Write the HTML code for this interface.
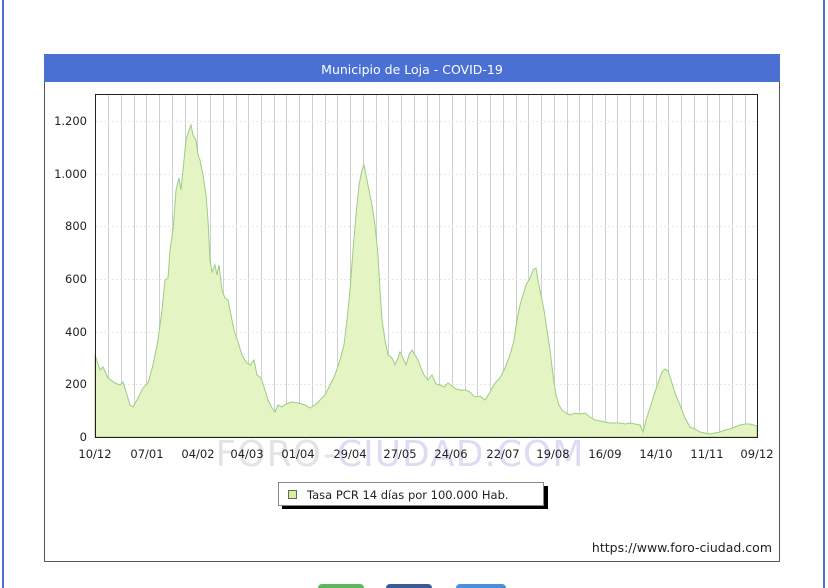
<!DOCTYPE html>
<html><head><meta charset="utf-8"><style>
body{margin:0;width:828px;height:588px;background:#fff;overflow:hidden;position:relative;font-family:"DejaVu Sans","Liberation Sans",sans-serif}
</style></head><body>
<div style="position:absolute;left:2px;top:0;width:2px;height:588px;background:#4a6fd0"></div>
<div style="position:absolute;left:823px;top:0;width:2px;height:588px;background:#4a6fd0"></div>
<svg width="828" height="588" style="position:absolute;left:0;top:0" font-family="DejaVu Sans, Liberation Sans, sans-serif">
<rect x="44.5" y="54.5" width="735" height="507" fill="#fff" stroke="#555"/>
<rect x="44" y="54" width="736" height="28" fill="#4a70d4"/>
<text x="412" y="74" text-anchor="middle" font-size="12.5" fill="#fff">Municipio de Loja - COVID-19</text>
<g id="grid" stroke="#cfcfcf" stroke-width="1"></g>
<polygon id="area" fill="#e4f4c2" stroke="#9ccc88" stroke-width="1"></polygon>
<rect x="95.5" y="94.5" width="662" height="343" fill="none" stroke="#222"/>
<g font-size="11.5" fill="#222" text-anchor="end">
<text x="87" y="125">1.200</text><text x="87" y="178">1.000</text><text x="87" y="230">800</text>
<text x="87" y="283">600</text><text x="87" y="336">400</text><text x="87" y="388">200</text><text x="87" y="441">0</text>
</g>
<text x="400" y="466" text-anchor="middle" font-size="36" fill="#e4e4e4" letter-spacing="1">FORO-<tspan fill="#dcdcf4">CIUDAD.COM</tspan></text>
<g font-size="11.5" fill="#222" text-anchor="middle">
<text x="95" y="458">10/12</text><text x="147" y="458">07/01</text><text x="198" y="458">04/02</text><text x="247" y="458">04/03</text><text x="298" y="458">01/04</text><text x="350" y="458">29/04</text><text x="400" y="458">27/05</text><text x="451" y="458">24/06</text><text x="503" y="458">22/07</text><text x="553" y="458">19/08</text><text x="605" y="458">16/09</text><text x="656" y="458">14/10</text><text x="707" y="458">11/11</text><text x="757" y="458">09/12</text>
</g>
<rect x="282" y="486" width="266" height="23" fill="#000"/>
<rect x="278.5" y="482.5" width="265" height="23" fill="#fff" stroke="#888"/>
<rect x="288.5" y="490.5" width="8" height="8" fill="#d6f0a0" stroke="#666"/>
<text x="307" y="499" font-size="11.5" fill="#222">Tasa PCR 14 días por 100.000 Hab.</text>
<text x="772" y="552" text-anchor="end" font-size="12.5" fill="#222">https://www.foro-ciudad.com</text>
<rect x="318" y="584" width="46" height="8" rx="4" fill="#5cb85c"/>
<rect x="386" y="584" width="46" height="8" rx="4" fill="#3b5998"/>
<rect x="456" y="584" width="50" height="8" rx="4" fill="#4a90d9"/>
</svg>
<script>
var g=document.getElementById('grid'),s='';
for(var i=1;i<52;i++){var x=95.5+i*662/52;x=Math.round(x)+0.5;s+='<line x1="'+x+'" y1="95" x2="'+x+'" y2="437"/>';}
[121,174,226,279,332,384].forEach(function(y){s+='<line x1="96" y1="'+(y+0.5)+'" x2="757" y2="'+(y+0.5)+'" stroke="#e8e8e8" stroke-dasharray="2,2"/>';});
g.innerHTML=s;
var d=[95,355,100,370,103,367,108,378,115,383,120,385,123,382,127,395,130,405,133,407,138,398,143,388,148,383,153,365,158,340,162,310,165,280,168,278,170,250,173,230,176,190,179,178,181,190,184,160,186,140,189,130,191,125,193,135,196,140,198,155,200,160,203,175,206,195,208,220,210,260,212,272,215,265,217,275,219,265,222,290,225,298,228,300,231,315,234,330,238,342,242,355,246,362,250,365,254,360,257,375,261,378,265,390,268,400,272,408,275,412,278,405,282,407,286,404,292,402,298,403,305,405,310,408,315,405,320,400,325,395,330,385,335,375,340,360,344,345,347,320,350,290,353,250,356,215,359,185,362,170,364,165,366,175,369,190,372,205,375,225,378,255,380,290,382,320,385,340,388,355,392,358,395,365,398,358,400,352,403,358,406,365,409,355,412,350,415,355,418,360,421,368,424,375,428,380,432,375,436,384,440,385,444,387,448,383,452,386,456,389,460,390,465,390,470,392,475,397,480,396,485,400,490,392,495,383,500,378,505,368,510,355,514,340,517,320,520,305,523,295,526,285,530,278,533,270,536,268,538,280,541,295,544,310,547,330,550,350,553,375,556,395,559,405,562,410,566,413,570,415,575,413,580,414,585,413,590,417,595,420,600,421,605,422,610,423,615,423,620,423,625,424,630,423,635,424,640,425,643,432,646,420,650,408,654,395,658,383,662,372,665,369,668,371,671,380,675,393,680,405,685,418,690,427,695,429,700,432,705,433,710,434,715,433,720,432,725,430,730,429,735,427,740,425,745,424,750,424,757,426];
var p='95,437 ';for(var j=0;j<d.length;j+=2)p+=d[j]+','+d[j+1]+' ';p+='757,437';
document.getElementById('area').setAttribute('points',p);
</script>
</body></html>
